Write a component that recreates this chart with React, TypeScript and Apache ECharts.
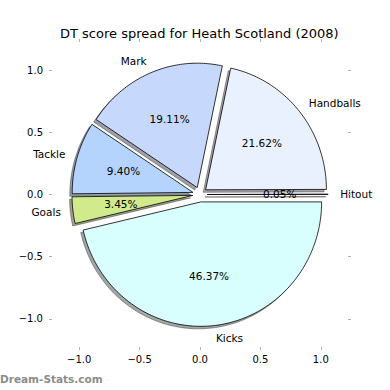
import React, { useEffect, useRef } from "react";
import * as echarts from "echarts";

const title = "DT score spread for Heath Scotland (2008)";
const categories = ["Hitout", "Handballs", "Mark", "Tackle", "Goals", "Kicks"];
const values = [0.05, 21.62, 19.11, 9.4, 3.45, 46.37];
const sliceColors = ["#E6ECFA", "#EAF1FE", "#C6D9FD", "#B4D4FE", "#D1EA8C", "#D8FEFE"];
const tickValues = [-1, -0.5, 0, 0.5, 1];
const watermark = "Dream-Stats.com";

const EXPLODE = 0.06;
const LABEL_DIST = 1.1;
const PCT_DIST = 0.6;
const SHADOW_OFF = -0.02;
const FONT = "DejaVu Sans";

function hexToRgb(h: string) {
  const n = parseInt(h.slice(1), 16);
  return [(n >> 16) & 255, (n >> 8) & 255, n & 255];
}

function sliceGeom(i: number) {
  const total = values.reduce((a, b) => a + b, 0);
  let start = 0;
  for (let k = 0; k < i; k++) start += (values[k] / total) * 360;
  const sweep = (values[i] / total) * 360;
  const mid = ((start + sweep / 2) * Math.PI) / 180;
  const cx = EXPLODE * Math.cos(mid);
  const cy = EXPLODE * Math.sin(mid);
  return { start, sweep, mid, cx, cy, pct: (values[i] / total) * 100 };
}

function wedgePoints(api: any, i: number, dx: number, dy: number) {
  const g = sliceGeom(i);
  const pts: number[][] = [];
  pts.push(api.coord([g.cx + dx, g.cy + dy]));
  const n = Math.max(2, Math.ceil(g.sweep / 1));
  for (let s = 0; s <= n; s++) {
    const a = ((g.start + (g.sweep * s) / n) * Math.PI) / 180;
    pts.push(api.coord([g.cx + dx + Math.cos(a), g.cy + dy + Math.sin(a)]));
  }
  return pts;
}

const fmtTick = (v: number) => v.toFixed(1).replace("-", "\u2212");

export default function App() {
  const ref = useRef<HTMLDivElement>(null);
  useEffect(() => {
    if (!ref.current) return;
    const chart = echarts.init(ref.current, undefined, { renderer: "svg" });
    const data = categories.map((c, i) => ({ name: c, value: [0, 0, i] }));
    const axisCommon = (pos: string, showLabel: boolean, margin: number) => ({
      type: "value",
      min: -1.25,
      max: 1.25,
      position: pos,
      z: 10,
      axisLine: { show: false, onZero: false },
      splitLine: { show: false },
      axisTick: {
        show: true,
        inside: true,
        length: 3,
        customValues: tickValues,
        lineStyle: { color: "#b0b0b0", width: 1 },
      },
      axisLabel: {
        show: showLabel,
        customValues: tickValues,
        formatter: (v: number) => fmtTick(v),
        color: "#000",
        fontSize: 10,
        fontFamily: FONT,
        margin,
      },
    });
    chart.setOption({
      animation: false,
      backgroundColor: "#ffffff",
      title: {
        text: title,
        left: 60,
        top: 22,
        padding: [5, 0, 5, 0],
        textStyle: { fontSize: 13, fontWeight: "normal", fontFamily: FONT, color: "#000" },
      },
      grid: { left: 49, width: 302, top: 39, height: 311, containLabel: false },
      xAxis: [axisCommon("bottom", true, 4), axisCommon("top", false, 4)],
      yAxis: [axisCommon("left", true, 6), axisCommon("right", false, 6)],
      graphic: [
        {
          type: "text",
          left: 0,
          top: 373,
          style: {
            text: watermark,
            fill: "#8c8c8c",
            fontSize: 10.5,
            fontWeight: "bold",
            fontFamily: FONT,
          },
        },
      ],
      series: [
        {
          type: "custom",
          name: "shadow",
          xAxisIndex: 0,
          yAxisIndex: 0,
          data,
          encode: { x: 0, y: 1 },
          z: 1,
          renderItem: (params: any, api: any) => {
            const i = params.dataIndex;
            const [r, g, b] = hexToRgb(sliceColors[i]);
            const c = `rgba(${Math.round(r * 0.3)},${Math.round(g * 0.3)},${Math.round(b * 0.3)},0.5)`;
            return {
              type: "polygon",
              shape: { points: wedgePoints(api, i, SHADOW_OFF, SHADOW_OFF) },
              style: { fill: c, stroke: c, lineWidth: 1 },
            };
          },
        },
        {
          type: "custom",
          name: "wedges",
          xAxisIndex: 0,
          yAxisIndex: 0,
          data,
          encode: { x: 0, y: 1 },
          z: 2,
          renderItem: (params: any, api: any) => {
            const i = params.dataIndex;
            return {
              type: "polygon",
              shape: { points: wedgePoints(api, i, 0, 0) },
              style: { fill: sliceColors[i], stroke: "#000", lineWidth: 0.8 },
            };
          },
        },
        {
          type: "custom",
          name: "labels",
          xAxisIndex: 0,
          yAxisIndex: 0,
          data,
          encode: { x: 0, y: 1 },
          z: 3,
          renderItem: (params: any, api: any) => {
            const i = params.dataIndex;
            const g = sliceGeom(i);
            const lx = g.cx + LABEL_DIST * Math.cos(g.mid);
            const ly = g.cy + LABEL_DIST * Math.sin(g.mid);
            const px = g.cx + PCT_DIST * Math.cos(g.mid);
            const py = g.cy + PCT_DIST * Math.sin(g.mid);
            const lp = api.coord([lx, ly]);
            const pp = api.coord([px, py]);
            return {
              type: "group",
              children: [
                {
                  type: "text",
                  x: lp[0],
                  y: lp[1],
                  style: {
                    text: categories[i],
                    align: lx > 0 ? "left" : "right",
                    verticalAlign: "middle",
                    fill: "#000",
                    fontSize: 10.5,
                    fontFamily: FONT,
                  },
                },
                {
                  type: "text",
                  x: pp[0],
                  y: pp[1],
                  style: {
                    text: g.pct.toFixed(2) + "%",
                    align: "center",
                    verticalAlign: "middle",
                    fill: "#000",
                    fontSize: 10.5,
                    fontFamily: FONT,
                  },
                },
              ],
            };
          },
        },
      ],
    });
    return () => chart.dispose();
  }, []);
  return (
    <div
      ref={ref}
      style={{ position: "fixed", left: 0, top: 0, width: 390, height: 390, background: "#fff" }}
    />
  );
}
